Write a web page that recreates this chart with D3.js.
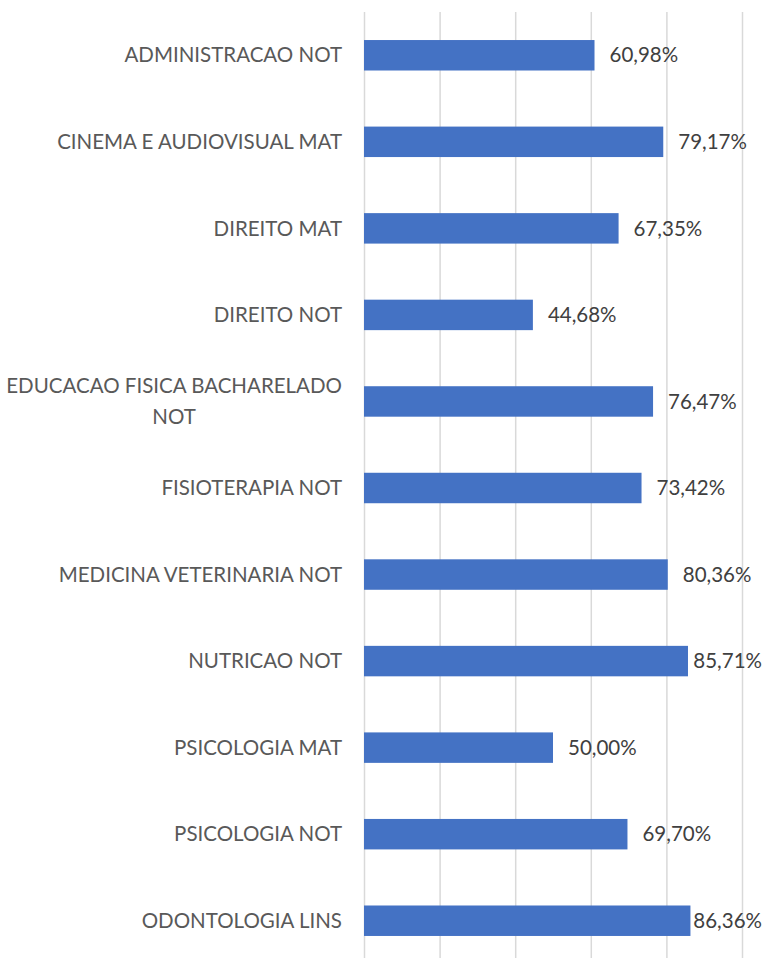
<!DOCTYPE html>
<html>
<head>
<meta charset="utf-8">
<script src="https://cdn.jsdelivr.net/npm/d3@7"></script>
<style>
  html, body { margin: 0; padding: 0; background: #fff; }
  svg { display: block; }
</style>
</head>
<body>
<div id="chart"></div>
<script>
// Dados do gráfico
const categories = [
    "ADMINISTRACAO NOT",
    "CINEMA E AUDIOVISUAL MAT",
    "DIREITO MAT",
    "DIREITO NOT",
    "EDUCACAO FISICA BACHARELADO NOT",
    "FISIOTERAPIA NOT",
    "MEDICINA VETERINARIA NOT",
    "NUTRICAO NOT",
    "PSICOLOGIA MAT",
    "PSICOLOGIA NOT",
    "ODONTOLOGIA LINS"
];
const values = [0.6098, 0.7917, 0.6735, 0.4468, 0.7647, 0.7342, 0.8036, 0.8571, 0.5000, 0.6970, 0.8636];
const xTicks = [0, 0.2, 0.4, 0.6, 0.8, 1.0];

const width = 767;
const height = 958;
const marginTop = 12;
const marginLeft = 364;
const marginRight = 25;
const plotBottom = 964;   // a área do gráfico passa um pouco do fim da imagem
const fontFamily = "Lato, 'Noto Sans', sans-serif";

const chartData = categories.map((c, i) => ({ name: c, value: values[i] }));

const x = d3.scaleLinear()
    .domain([0, 1])
    .range([marginLeft, width - marginRight]);

const y = d3.scaleBand()
    .domain(categories)
    .range([marginTop, plotBottom])
    .paddingInner(0.648)
    .paddingOuter(0.324);

// Cria o SVG e já coloca no DOM (para medir os textos)
const svg = d3.select("#chart").append("svg")
    .attr("width", width)
    .attr("height", height)
    .attr("viewBox", [0, 0, width, height])
    .style("font-family", fontFamily);

// Linhas de grade verticais
svg.append("g")
    .attr("transform", `translate(0,${marginTop})`)
    .call(d3.axisTop(x).tickValues(xTicks).tickSize(-(plotBottom - marginTop)).tickFormat(""))
    .call(g => g.select(".domain").remove())
    .call(g => g.selectAll(".tick line").attr("stroke", "#d9d9d9").attr("stroke-width", 1.5));

// Barras
svg.append("g")
    .attr("fill", "#4472c4")
    .selectAll("rect")
    .data(chartData)
    .join("rect")
    .attr("x", x(0))
    .attr("y", d => y(d.name))
    .attr("width", d => x(d.value) - x(0))
    .attr("height", y.bandwidth());

// Rótulos das categorias (eixo y)
const labelRight = x(0) - 22;
const maxLabelWidth = 340;
const lineHeight = 31;

const gy = svg.append("g")
    .attr("font-size", 20.5)
    .attr("fill", "#595959");

chartData.forEach(d => {
    const cy = y(d.name) + y.bandwidth() / 2;
    const t = gy.append("text")
        .attr("text-anchor", "end")
        .attr("x", labelRight)
        .attr("y", cy)
        .attr("dy", "0.35em")
        .text(d.name);
    if (t.node().getComputedTextLength() > maxLabelWidth) {
        // quebra o texto em linhas
        const words = d.name.split(" ");
        const lines = [];
        let line = [];
        words.forEach(w => {
            line.push(w);
            t.text(line.join(" "));
            if (t.node().getComputedTextLength() > maxLabelWidth && line.length > 1) {
                line.pop();
                lines.push(line.join(" "));
                line = [w];
            }
        });
        lines.push(line.join(" "));
        t.remove();
        const widths = lines.map(l => {
            const tmp = gy.append("text").text(l);
            const w = tmp.node().getComputedTextLength();
            tmp.remove();
            return w;
        });
        const cx = labelRight - d3.max(widths) / 2;
        lines.forEach((l, i) => {
            gy.append("text")
                .attr("text-anchor", "middle")
                .attr("x", cx)
                .attr("y", cy + (i - (lines.length - 1) / 2) * lineHeight)
                .attr("dy", "0.35em")
                .text(l);
        });
    }
});

// Rótulos de valores
const fmt = v => (v * 100).toFixed(2).replace(".", ",") + "%";
const rightLimit = width - 5;

svg.append("g")
    .attr("font-size", 20.5)
    .attr("fill", "#404040")
    .selectAll("text")
    .data(chartData)
    .join("text")
    .attr("y", d => y(d.name) + y.bandwidth() / 2)
    .attr("dy", "0.35em")
    .text(d => fmt(d.value))
    .attr("x", function(d) {
        const w = this.getComputedTextLength();
        return Math.min(x(d.value) + 15, rightLimit - w);
    });
</script>
</body>
</html>
